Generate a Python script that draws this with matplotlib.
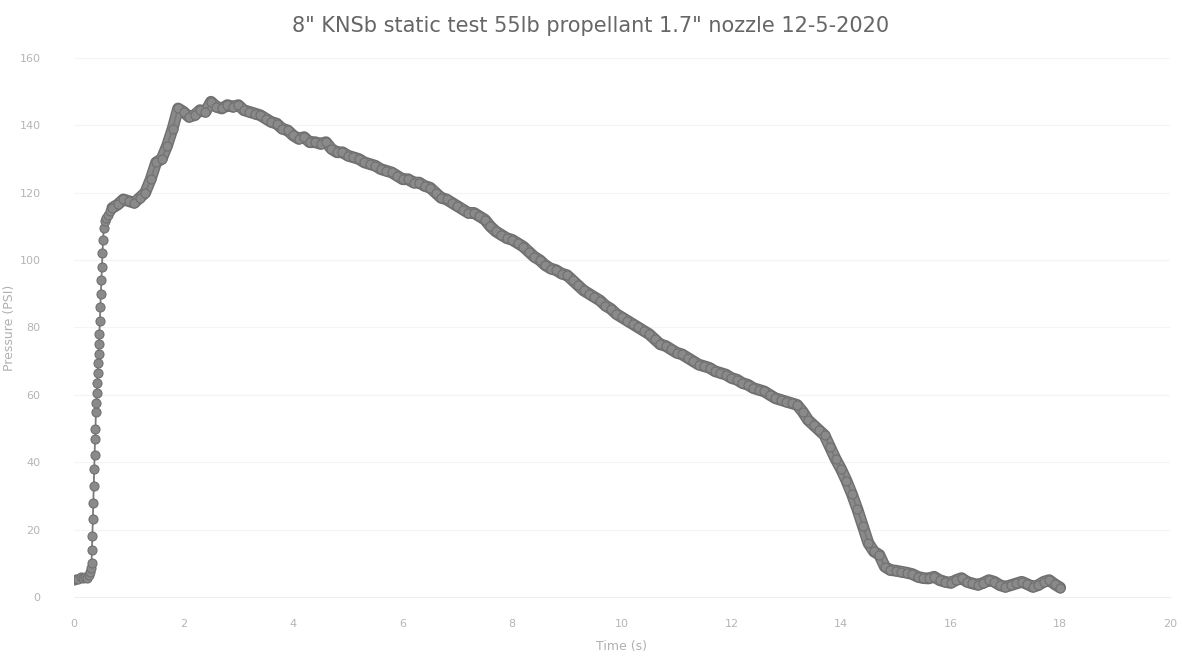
import numpy as np
import matplotlib
matplotlib.use("Agg")
import matplotlib.pyplot as plt

# pressure trace
# ignition delay
t_ignite = [0.00, 0.04, 0.08, 0.12, 0.16, 0.20, 0.24, 0.27, 0.29, 0.31]
p_ignite = [5.0, 5.4, 5.2, 5.8, 5.5, 6.0, 5.6, 6.5, 7.5, 8.5]

# fast rise (dense samples are visible as separate dots)
t_rise = [0.320, 0.328, 0.336, 0.344, 0.352, 0.360, 0.368, 0.376, 0.384, 0.392,
          0.400, 0.408, 0.416, 0.424, 0.432, 0.440, 0.448, 0.456, 0.464, 0.472,
          0.480, 0.490, 0.500, 0.510, 0.520, 0.530, 0.545, 0.565, 0.590, 0.620,
          0.650]
p_rise = [10, 14, 18, 23, 28, 33, 38, 42, 47, 50,
          55, 57.5, 60.5, 63.5, 66.5, 69.5, 72, 75, 78, 82,
          86, 90, 94, 98, 102, 106, 109.5, 111.5, 112.5, 113.5,
          114.5]

# main burn, 0.1 s steps from 0.7 s to 13.3 s
t_burn = [round(0.7 + 0.1 * i, 1) for i in range(127)]
p_burn = [115.5, 116.5, 118, 117.5, 117, 118.5, 120, 124, 129, 130,        # 0.7-1.6
          134, 139, 145, 144, 142.5, 143, 144.5, 144, 147, 145.5,          # 1.7-2.6
          145, 146, 145.5, 146, 144.5, 144, 143.5, 143, 142, 141,          # 2.7-3.6
          140.5, 139, 138.5, 137, 136, 136.5, 135, 135, 134.5, 135,        # 3.7-4.6
          133, 132, 132, 131, 130.5, 130, 129, 128.5, 128, 127,            # 4.7-5.6
          126.5, 126, 125, 124, 124, 123, 123, 122, 121.5, 120,            # 5.7-6.6
          118.5, 118, 117, 116, 115, 114, 114, 113, 112, 110,              # 6.7-7.6
          108.5, 107.5, 106.5, 106, 105, 104, 102.5, 101, 100, 98.5,       # 7.7-8.6
          97.5, 97, 96, 95.5, 94, 92.5, 91, 90, 89, 88,                    # 8.7-9.6
          86.5, 85.5, 84, 83, 82, 81, 80, 79, 78, 76.5,                    # 9.7-10.6
          75, 74.5, 73.5, 72.5, 72, 71, 70, 69, 68.5, 68,                  # 10.7-11.6
          67, 66.5, 66, 65, 64.5, 63.5, 63, 62, 61.5, 61,                  # 11.7-12.6
          60, 59, 58.5, 58, 57.5, 57, 55]                                  # 12.7-13.3

# tail-off and residual pressure, 13.4 s to 18.0 s
t_tail = [round(13.4 + 0.1 * i, 1) for i in range(47)]
p_tail = [52.5, 51, 49.5, 48, 44.5, 41, 38, 34.5, 30.5, 26,
          21, 16, 13.5, 12.5, 9, 8, 7.8, 7.5, 7.2, 6.8,
          6, 5.6, 5.5, 6, 5, 4.5, 4.2, 5, 5.6, 4.5,
          4, 3.6, 4.2, 5, 4.5, 3.5, 3, 3.5, 4, 4.5,
          3.8, 3, 3.5, 4.5, 5, 3.8, 2.8]

time_s = t_ignite + t_rise + t_burn + t_tail
pressure_psi = p_ignite + p_rise + p_burn + p_tail

x_ticks = list(range(0, 21, 2))
y_ticks = list(range(0, 161, 20))

plt.rcParams["font.family"] = ["Liberation Sans Narrow", "DejaVu Sans"]

fig = plt.figure(figsize=(11.82, 6.6), dpi=100)
ax = fig.add_axes([0.0626, 0.0955, 0.927, 0.8167])

# the dense samples merge into a thick band after the rise
ax.plot(t_burn + t_tail, p_burn + p_tail, color="#6e6e6e", lw=8.5,
        solid_capstyle="round", solid_joinstyle="round", zorder=2)
ax.plot(t_burn + t_tail, p_burn + p_tail, color="#8a8a8a", lw=6.5,
        solid_capstyle="round", solid_joinstyle="round", zorder=2)
ax.plot(time_s, pressure_psi, color="#7a7a7a", lw=1.3, marker="o", ms=6.5,
        mfc="#8a8a8a", mec="#707070", mew=0.8, zorder=3)

ax.set_xlim(0, 20)
ax.set_ylim(0, 160)
ax.set_xticks(x_ticks)
ax.set_yticks(y_ticks)
ax.grid(axis="y", color="#f4f4f4", lw=0.8)
ax.set_axisbelow(True)
for side in ["top", "right", "left"]:
    ax.spines[side].set_visible(False)
ax.spines["bottom"].set_color("#efefef")
ax.tick_params(length=0, labelsize=8, colors="#b5b5b5")
ax.tick_params(axis="x", pad=16)
ax.tick_params(axis="y", pad=24)

ax.set_xlabel("Time (s)", fontsize=9, color="#b0b0b0", labelpad=8)
ax.set_ylabel("Pressure (PSI)", fontsize=9, color="#b0b0b0")
ax.yaxis.set_label_coords(-0.053, 0.5)
fig.suptitle('8" KNSb static test 55lb propellant 1.7" nozzle 12-5-2020',
             y=0.975, fontsize=15, color="#666666")

fig.savefig("out.png", dpi=100)
